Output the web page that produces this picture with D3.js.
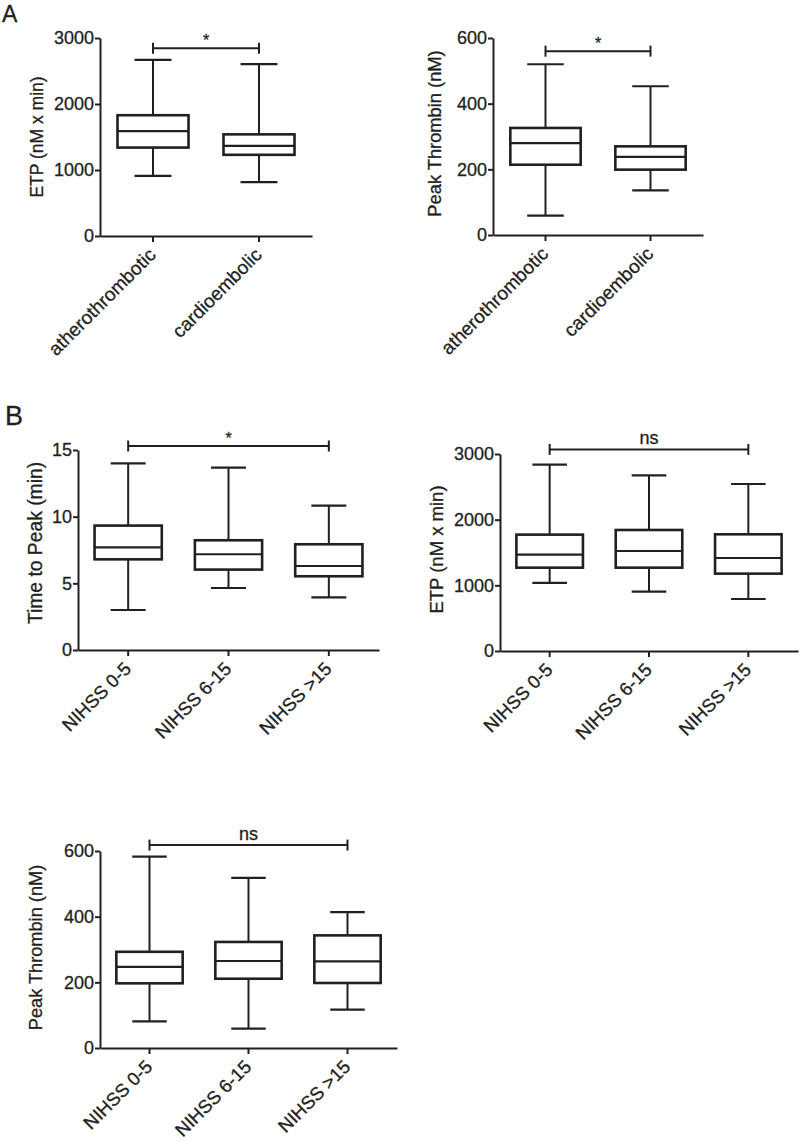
<!DOCTYPE html>
<html>
<head>
<meta charset="utf-8">
<title>Thrombin generation by stroke subtype and NIHSS</title>
<script src="https://cdnjs.cloudflare.com/ajax/libs/d3/7.8.5/d3.min.js"></script>
<style>
    body { margin: 0; background: #fff; }
    svg text {
        font-family: "Liberation Sans", Arial, Helvetica, sans-serif;
        fill: #231f20;
        stroke: #231f20;
        stroke-width: 0.3px;
    }
</style>
</head>
<body>
<svg id="chart"></svg>
<script>
const WIDTH = 800;
const HEIGHT = 1142;
const INK = "#231f20";

// categories
const subtypes = ["atherothrombotic", "cardioembolic"];
const nihss = ["NIHSS 0-5", "NIHSS 6-15", "NIHSS >15"];

// box summaries: [min, q1, median, q3, max]
const etpBySubtype = [[910, 1340, 1590, 1830, 2670], [815, 1230, 1365, 1540, 2605]];
const peakBySubtype = [[59, 214, 280, 326, 520], [136, 199, 238, 270, 453]];
const ttpByNihss = [[3.0, 6.8, 7.7, 9.33, 14.0], [4.65, 6.03, 7.18, 8.23, 13.68], [3.95, 5.53, 6.3, 7.93, 10.83]];
const etpByNihss = [[1036, 1269, 1467, 1772, 2838], [904, 1269, 1523, 1843, 2675], [792, 1178, 1416, 1777, 2543]];
const peakByNihss = [[81, 197, 247, 293, 583], [59, 211, 265, 323, 518], [117, 198, 264, 343, 414]];

// y axis ticks
const etpTicks = [0, 1000, 2000, 3000];
const peakTicks = [0, 200, 400, 600];
const ttpTicks = [0, 5, 10, 15];

// significance bars: label and level (in data units)
const sigLabels = ["*", "*", "*", "ns", "ns"];
const sigLevels = [2845, 560, 15.3, 3070, 618];

const svg = d3.select("#chart")
    .attr("width", WIDTH)
    .attr("height", HEIGHT);

// panel layout (pixels)
const panels = [
    { groups: subtypes, stats: etpBySubtype, ticks: etpTicks, title: "ETP (nM x min)",
      left: 100, right: 312, top: 38, bottom: 236, titleGap: 57, titleSize: 17.5, titleShift: 0, labelSize: 19 },
    { groups: subtypes, stats: peakBySubtype, ticks: peakTicks, title: "Peak Thrombin (nM)",
      left: 493, right: 703, top: 38, bottom: 235, titleGap: 52, titleSize: 18.3, titleShift: -3, labelSize: 19 },
    { groups: nihss, stats: ttpByNihss, ticks: ttpTicks, title: "Time to Peak (min)",
      left: 78, right: 379, top: 450, bottom: 650, titleGap: 36, titleSize: 19.3, titleShift: -7, labelSize: 18.5 },
    { groups: nihss, stats: etpByNihss, ticks: etpTicks, title: "ETP (nM x min)",
      left: 500, right: 798, top: 454, bottom: 651, titleGap: 57, titleSize: 18.5, titleShift: -3, labelSize: 18.5 },
    { groups: nihss, stats: peakByNihss, ticks: peakTicks, title: "Peak Thrombin (nM)",
      left: 100, right: 397, top: 851, bottom: 1048, titleGap: 58, titleSize: 18.2, titleShift: -2, labelSize: 18.5 }
];

function styleAxis(sel) {
    sel.select(".domain").attr("stroke", INK).attr("stroke-width", 2);
    sel.selectAll(".tick line").attr("stroke", INK).attr("stroke-width", 2);
    sel.selectAll("text").attr("font-size", 18);
}

panels.forEach(function(p, i) {
    const g = svg.append("g");
    const ymax = d3.max(p.ticks);

    const x = d3.scaleBand().domain(p.groups).range([p.left, p.right]);
    const y = d3.scaleLinear().domain([0, ymax]).range([p.bottom, p.top]);
    const bw = x.bandwidth() * 0.67;
    const cw = bw * 0.52;
    const cx = function(d) { return x(d) + x.bandwidth() / 2; };

    // y axis
    g.append("g")
        .attr("transform", "translate(" + p.left + ",0)")
        .call(d3.axisLeft(y).tickValues(p.ticks).tickSize(5).tickSizeOuter(0).tickPadding(1).tickFormat(d3.format("d")))
        .call(styleAxis);

    // x axis with rotated labels
    const xa = g.append("g")
        .attr("transform", "translate(0," + p.bottom + ")")
        .call(d3.axisBottom(x).tickSize(6).tickSizeOuter(0))
        .call(styleAxis);
    xa.selectAll("text")
        .attr("x", 0).attr("y", 0).attr("dy", 0)
        .attr("font-size", p.labelSize)
        .attr("text-anchor", "end")
        .attr("transform", "translate(4,20) rotate(-45)");

    // axis title
    g.append("text")
        .attr("transform", "translate(" + (p.left - p.titleGap) + "," + ((p.top + p.bottom) / 2 + p.titleShift) + ") rotate(-90)")
        .attr("text-anchor", "middle")
        .attr("font-size", p.titleSize)
        .text(p.title);

    // boxes
    const rows = p.groups.map(function(name, k) { return { name: name, s: p.stats[k] }; });
    const box = g.selectAll(".box").data(rows).enter().append("g").attr("class", "box");

    box.append("line")
        .attr("x1", function(d) { return cx(d.name); })
        .attr("x2", function(d) { return cx(d.name); })
        .attr("y1", function(d) { return y(d.s[0]); })
        .attr("y2", function(d) { return y(d.s[4]); })
        .attr("stroke", INK).attr("stroke-width", 2);

    [0, 4].forEach(function(k) {
        box.append("line")
            .attr("x1", function(d) { return cx(d.name) - cw / 2; })
            .attr("x2", function(d) { return cx(d.name) + cw / 2; })
            .attr("y1", function(d) { return y(d.s[k]); })
            .attr("y2", function(d) { return y(d.s[k]); })
            .attr("stroke", INK).attr("stroke-width", 2.2);
    });

    box.append("rect")
        .attr("x", function(d) { return cx(d.name) - bw / 2; })
        .attr("width", bw)
        .attr("y", function(d) { return y(d.s[3]); })
        .attr("height", function(d) { return y(d.s[1]) - y(d.s[3]); })
        .attr("fill", "#fff")
        .attr("stroke", INK).attr("stroke-width", 2.6);

    box.append("line")
        .attr("x1", function(d) { return cx(d.name) - bw / 2; })
        .attr("x2", function(d) { return cx(d.name) + bw / 2; })
        .attr("y1", function(d) { return y(d.s[2]); })
        .attr("y2", function(d) { return y(d.s[2]); })
        .attr("stroke", INK).attr("stroke-width", 2.2);

    // significance bar between first and last group
    const xa0 = cx(p.groups[0]);
    const xa1 = cx(p.groups[p.groups.length - 1]);
    const ys = y(sigLevels[i]);
    const sig = g.append("g").attr("stroke", INK).attr("stroke-width", 2);
    sig.append("line").attr("x1", xa0).attr("x2", xa1).attr("y1", ys).attr("y2", ys);
    [xa0, xa1].forEach(function(xx) {
        sig.append("line").attr("x1", xx).attr("x2", xx).attr("y1", ys - 5.5).attr("y2", ys + 5.5);
    });
    const star = sigLabels[i] === "*";
    g.append("text")
        .attr("x", (xa0 + xa1) / 2)
        .attr("y", ys - (star ? 2 : 5))
        .attr("text-anchor", "middle")
        .attr("font-size", star ? 16 : 18)
        .text(sigLabels[i]);
});

// panel letters
svg.append("text").attr("x", 2).attr("y", 22).attr("font-size", 23).text("A");
svg.append("text").attr("x", 5).attr("y", 425).attr("font-size", 27).text("B");
</script>
</body>
</html>
